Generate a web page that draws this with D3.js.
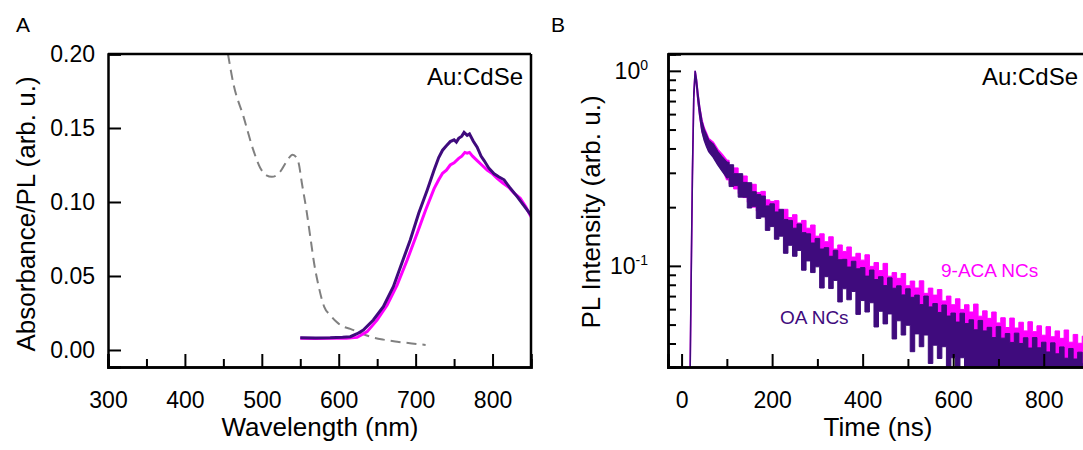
<!DOCTYPE html>
<html>
<head>
<meta charset="utf-8">
<script src="https://cdn.jsdelivr.net/npm/d3@7"></script>
<style>
    body { margin: 0; background: #fff; }
    text { font-family: "Liberation Sans", Arial, sans-serif; fill: #000; }
</style>
</head>
<body>
<div id="chart"></div>
<script>
// ---- panel A data: absorbance (dashed) and PL spectra ----
var wlAbs = [456, 463, 476, 489, 498, 506, 513, 519, 524, 533, 540, 545, 548, 552, 558, 563, 568, 574, 581, 589, 597, 605, 615, 628, 641, 658, 676, 695, 713];
var absorbance = [0.200, 0.180, 0.158, 0.135, 0.123, 0.118, 0.117, 0.118, 0.1205, 0.128, 0.132, 0.130, 0.126, 0.113, 0.0946, 0.0766, 0.0586, 0.0428, 0.0293, 0.0235, 0.019, 0.016, 0.0143, 0.0115, 0.009, 0.007, 0.0056, 0.0044, 0.0034];

var wlOA = [550, 570, 589, 605, 615, 624, 632, 645, 658, 671, 682, 693, 704, 715, 724, 730, 735, 740, 745, 750, 753, 756, 760, 763, 767, 770, 775, 780, 785, 789, 795, 802, 808, 815, 822, 832, 840, 850];
var plOA = [0.0082, 0.0081, 0.0082, 0.0086, 0.009, 0.011, 0.0135, 0.0203, 0.0293, 0.0428, 0.0586, 0.0743, 0.0924, 0.108, 0.1216, 0.130, 0.135, 0.138, 0.1408, 0.142, 0.1405, 0.143, 0.1445, 0.147, 0.145, 0.146, 0.141, 0.137, 0.131, 0.128, 0.123, 0.119, 0.117, 0.115, 0.110, 0.1036, 0.098, 0.0912];

var wlACA = [550, 570, 589, 610, 624, 637, 650, 663, 676, 689, 702, 713, 724, 730, 735, 740, 745, 750, 756, 760, 764, 767, 770, 774, 780, 786, 793, 800, 806, 813, 821, 828, 836, 843, 850];
var plACA = [0.0079, 0.0078, 0.0079, 0.008, 0.0085, 0.0124, 0.0203, 0.0304, 0.044, 0.0608, 0.0789, 0.0946, 0.109, 0.115, 0.1194, 0.1215, 0.125, 0.1265, 0.1295, 0.131, 0.1335, 0.133, 0.1335, 0.131, 0.128, 0.125, 0.1216, 0.119, 0.116, 0.113, 0.110, 0.106, 0.1025, 0.097, 0.090];

var xTicksA = [300, 400, 500, 600, 700, 800];
var xMinorA = [350, 450, 550, 650, 750];
var yTicksA = [0.00, 0.05, 0.10, 0.15, 0.20];

// ---- panel B data: PL decays, noise band read as low / high envelope ----
var timeNs = [19, 21, 24, 27, 30, 33, 36, 40, 45, 50, 55, 60, 70, 80, 90,
    100, 110, 120, 130, 140, 150, 160, 170, 180, 190, 200, 210, 220, 230, 240, 250, 260, 270, 280, 290,
    300, 310, 320, 330, 340, 350, 360, 370, 380, 390, 400, 410, 420, 430, 440, 450, 460, 470, 480, 490,
    500, 510, 520, 530, 540, 550, 560, 570, 580, 590, 600, 610, 620, 630, 640, 650, 660, 670, 680, 690,
    700, 710, 720, 730, 740, 750, 760, 770, 780, 790, 800, 810, 820, 830, 840, 850, 860, 870, 880, 890, 900];

var oaHigh = [0.031, 0.082, 0.31, 0.77, 1.0, 0.90, 0.77, 0.65, 0.55, 0.50, 0.47, 0.44, 0.42, 0.385, 0.36,
    0.340, 0.330, 0.297, 0.297, 0.268, 0.267, 0.240, 0.232, 0.228, 0.203, 0.208, 0.189, 0.195, 0.173, 0.171, 0.156, 0.164, 0.148, 0.146, 0.131,
    0.138, 0.122, 0.124, 0.112, 0.120, 0.1075, 0.108, 0.0986, 0.1056, 0.0966, 0.098, 0.0886, 0.0952, 0.0851, 0.088, 0.0792, 0.0868, 0.0768, 0.079, 0.071,
    0.0763, 0.069, 0.0708, 0.0633, 0.070, 0.0616, 0.0641, 0.0577, 0.063, 0.0553, 0.0573, 0.0515, 0.0572, 0.0506, 0.0529, 0.047, 0.0525, 0.0464, 0.0484, 0.0429,
    0.0488, 0.0426, 0.045, 0.0405, 0.0452, 0.040, 0.0428, 0.0379, 0.0429, 0.038, 0.0406, 0.0362, 0.0403, 0.0354, 0.0384, 0.0336, 0.0377, 0.0333, 0.0361, 0.0316, 0.0351];
var oaLow = [0.029, 0.078, 0.29, 0.73, 0.97, 0.85, 0.71, 0.59, 0.49, 0.44, 0.41, 0.385, 0.36, 0.33, 0.305,
    0.284, 0.255, 0.258, 0.225, 0.225, 0.198, 0.202, 0.175, 0.178, 0.152, 0.159, 0.137, 0.142, 0.116, 0.1275, 0.112, 0.120, 0.095, 0.106, 0.0924,
    0.0989, 0.077, 0.088, 0.0765, 0.0842, 0.0653, 0.0763, 0.067, 0.0739, 0.0564, 0.0664, 0.058, 0.0647, 0.0486, 0.0585, 0.0504, 0.0567, 0.0422, 0.0523, 0.0442,
    0.0496, 0.0363, 0.0448, 0.0385, 0.0442, 0.0316, 0.0392, 0.0335, 0.0385, 0.0272, 0.0338, 0.029, 0.0338, 0.0264, 0.0305, 0.0244, 0.0287, 0.024, 0.0265, 0.022,
    0.0248, 0.0204, 0.023, 0.0195, 0.0217, 0.019, 0.021, 0.019, 0.020, 0.018, 0.020, 0.018, 0.019, 0.018, 0.019, 0.017, 0.018, 0.017, 0.018, 0.017, 0.017];

var acaHigh = [0.031, 0.082, 0.31, 0.77, 1.0, 0.90, 0.77, 0.65, 0.56, 0.51, 0.48, 0.45, 0.43, 0.395, 0.372,
    0.348, 0.318, 0.318, 0.289, 0.289, 0.262, 0.262, 0.238, 0.241, 0.218, 0.214, 0.216, 0.190, 0.195, 0.177, 0.183, 0.166, 0.171, 0.156, 0.162,
    0.142, 0.146, 0.133, 0.141, 0.122, 0.128, 0.1186, 0.125, 0.111, 0.116, 0.107, 0.114, 0.0994, 0.104, 0.0946, 0.103, 0.0885, 0.0924, 0.0863, 0.0914,
    0.0791, 0.0836, 0.077, 0.0838, 0.0723, 0.0769, 0.0708, 0.0756, 0.0661, 0.070, 0.0632, 0.0678, 0.0598, 0.0632, 0.058, 0.0637, 0.0552, 0.0588, 0.0538, 0.058,
    0.051, 0.0542, 0.0483, 0.054, 0.048, 0.0514, 0.0464, 0.0517, 0.046, 0.0493, 0.0441, 0.0488, 0.0433, 0.0464, 0.0425, 0.0469, 0.0406, 0.0445, 0.0401, 0.0436, 0.0386];
var acaLow = [0.029, 0.078, 0.29, 0.73, 0.97, 0.85, 0.71, 0.59, 0.49, 0.45, 0.42, 0.39, 0.37, 0.34, 0.315,
    0.276, 0.262, 0.248, 0.235, 0.224, 0.212, 0.200, 0.191, 0.182, 0.173, 0.166, 0.159, 0.152, 0.145, 0.139, 0.133, 0.128, 0.123, 0.118, 0.113,
    0.109, 0.105, 0.100, 0.097, 0.094, 0.091, 0.088, 0.086, 0.084, 0.082, 0.079, 0.077, 0.075, 0.073, 0.071, 0.069, 0.067, 0.065, 0.064, 0.062,
    0.060, 0.058, 0.057, 0.056, 0.054, 0.053, 0.052, 0.051, 0.049, 0.048, 0.046, 0.045, 0.044, 0.043, 0.0425, 0.0415, 0.041, 0.040, 0.039, 0.038,
    0.0375, 0.0365, 0.036, 0.035, 0.035, 0.034, 0.034, 0.0335, 0.033, 0.033, 0.032, 0.032, 0.031, 0.031, 0.0305, 0.030, 0.030, 0.029, 0.029, 0.0285, 0.028];

var xTicksB = [0, 200, 400, 600, 800];
var xMinorB = [100, 300, 500, 700];
var yMajorB = [1, 0.1];
var yMinorB = [0.9, 0.8, 0.7, 0.6, 0.5, 0.4, 0.3, 0.2, 0.09, 0.08, 0.07, 0.06, 0.05, 0.04];

var purple = "#3f0b7d";
var magenta = "#ff00ff";

var svg = d3.select("#chart").append("svg")
    .attr("width", 1083)
    .attr("height", 450);

// ================= panel A =================
var xA = d3.scaleLinear().domain([300, 850]).range([108, 531]);
var yA = d3.scaleLinear().domain([-0.0115, 0.2]).range([367, 54]);

svg.append("clipPath").attr("id", "clipA")
    .append("rect").attr("x", 108).attr("y", 54).attr("width", 423).attr("height", 313);

var gA = svg.append("g").attr("clip-path", "url(#clipA)");

var lineA = function(xs, ys, curve) {
    return d3.line()
        .x(function(d, i) { return xA(xs[i]); })
        .y(function(d, i) { return yA(ys[i]); })
        .curve(curve)(xs);
};

gA.append("path")
    .attr("d", lineA(wlAbs, absorbance, d3.curveMonotoneX))
    .attr("fill", "none")
    .attr("stroke", "#808080")
    .attr("stroke-width", 2)
    .attr("stroke-dasharray", "10,6");

gA.append("path")
    .attr("d", lineA(wlACA, plACA, d3.curveLinear))
    .attr("fill", "none")
    .attr("stroke", magenta)
    .attr("stroke-width", 3);

gA.append("path")
    .attr("d", lineA(wlOA, plOA, d3.curveLinear))
    .attr("fill", "none")
    .attr("stroke", purple)
    .attr("stroke-width", 3);

// axes for A: bottom with minor ticks, left, plus plain box lines
svg.append("g")
    .attr("transform", "translate(0,367)")
    .call(d3.axisBottom(xA).tickValues(xMinorA).tickSize(-8).tickFormat(""));
svg.append("g")
    .attr("transform", "translate(0,367)")
    .call(d3.axisBottom(xA).tickValues(xTicksA).tickSize(-13).tickPadding(25).tickFormat(d3.format("d")));
svg.append("g")
    .attr("transform", "translate(108,0)")
    .call(d3.axisLeft(yA).tickValues(yTicksA).tickSize(-13).tickPadding(13).tickFormat(d3.format(".2f")));

svg.append("line").attr("x1", 108).attr("x2", 531).attr("y1", 54).attr("y2", 54);
svg.append("line").attr("x1", 531).attr("x2", 531).attr("y1", 54).attr("y2", 367);

svg.append("text").attr("x", 523).attr("y", 85).attr("text-anchor", "end")
    .style("font-size", "24px").text("Au:CdSe");
svg.append("text").attr("x", 320).attr("y", 436).attr("text-anchor", "middle")
    .style("font-size", "26px").text("Wavelength (nm)");
svg.append("text").attr("transform", "translate(35,214) rotate(-90)").attr("text-anchor", "middle")
    .style("font-size", "26px").text("Absorbance/PL (arb. u.)");
svg.append("text").attr("x", 16).attr("y", 32).style("font-size", "21px").text("A");

// ================= panel B =================
var xB = d3.scaleLinear().domain([-30, 900]).range([668, 1089]);
var yB = d3.scaleLog().domain([0.0303, 1.22]).range([367, 54]);

svg.append("clipPath").attr("id", "clipB")
    .append("rect").attr("x", 668).attr("y", 54).attr("width", 421).attr("height", 313);

var gB = svg.append("g").attr("clip-path", "url(#clipB)");

// the noisy decays: the rise and peak as plain area, the tail as a stepped band
var band = function(lo, hi, from, curve) {
    var idx = d3.range(from, timeNs.length);
    return d3.area()
        .x(function(i) { return xB(timeNs[i]); })
        .y0(function(i) { return yB(lo[i]); })
        .y1(function(i) { return yB(hi[i]); })
        .curve(curve)(idx);
};

var drawDecay = function(lo, hi, color, tStart) {
    gB.append("path")
        .attr("d", d3.line()([[xB(tStart), 380], [xB(timeNs[0]), yB(lo[0])]]))
        .attr("stroke", color).attr("stroke-width", 2);
    var early = d3.area()
        .x(function(i) { return xB(timeNs[i]); })
        .y0(function(i) { return yB(lo[i]); })
        .y1(function(i) { return yB(hi[i]); })(d3.range(0, 16));
    gB.append("path").attr("d", early)
        .attr("fill", color).attr("stroke", color).attr("stroke-width", 1.5);
    gB.append("path").attr("d", band(lo, hi, 15, d3.curveStep))
        .attr("fill", color).attr("stroke", color).attr("stroke-width", 1);
};

drawDecay(acaLow, acaHigh, magenta, 18);
drawDecay(oaLow, oaHigh, purple, 18.6);

svg.append("g")
    .attr("transform", "translate(0,367)")
    .call(d3.axisBottom(xB).tickValues(xMinorB).tickSize(-8).tickFormat(""));
svg.append("g")
    .attr("transform", "translate(0,367)")
    .call(d3.axisBottom(xB).tickValues(xTicksB).tickSize(-13).tickPadding(25).tickFormat(d3.format("d")));
svg.append("g")
    .attr("transform", "translate(668,0)")
    .call(d3.axisLeft(yB).tickValues(yMinorB).tickSize(-8).tickFormat(""));
var yAxB = svg.append("g")
    .attr("transform", "translate(668,0)")
    .call(d3.axisLeft(yB).tickValues(yMajorB).tickSize(-13).tickPadding(20).tickFormat(""));

// 10^n labels with superscripts
yAxB.selectAll(".tick").each(function(d) {
    var t = d3.select(this).append("text")
        .attr("x", -20).attr("dy", "0.35em")
        .attr("text-anchor", "end")
        .style("font-size", "23px");
    t.append("tspan").text("10");
    t.append("tspan").attr("dy", -9).style("font-size", "14px").text(Math.round(Math.log10(d)));
});

svg.append("line").attr("x1", 668).attr("x2", 1089).attr("y1", 54).attr("y2", 54);

svg.append("text").attr("x", 1078).attr("y", 85).attr("text-anchor", "end")
    .style("font-size", "24px").text("Au:CdSe");
svg.append("text").attr("x", 941).attr("y", 277)
    .style("font-size", "19px").style("fill", magenta).text("9-ACA NCs");
svg.append("text").attr("x", 780).attr("y", 324)
    .style("font-size", "19px").style("fill", purple).text("OA NCs");
svg.append("text").attr("x", 878).attr("y", 436).attr("text-anchor", "middle")
    .style("font-size", "26px").text("Time (ns)");
svg.append("text").attr("transform", "translate(600,212) rotate(-90)").attr("text-anchor", "middle")
    .style("font-size", "26px").text("PL Intensity (arb. u.)");
svg.append("text").attr("x", 551).attr("y", 32).style("font-size", "21px").text("B");

// common axis styling
svg.selectAll(".domain").attr("stroke", "#000").attr("stroke-width", 2.5);
svg.selectAll(".tick line").attr("stroke", "#000").attr("stroke-width", 2);
svg.selectAll(".tick text").style("font-size", "23px").style("font-family", "Liberation Sans, Arial, sans-serif").attr("fill", "#000");
svg.selectAll("line").filter(function() { return !this.closest(".tick"); })
    .attr("stroke", "#000").attr("stroke-width", 2.5);
</script>
</body>
</html>
